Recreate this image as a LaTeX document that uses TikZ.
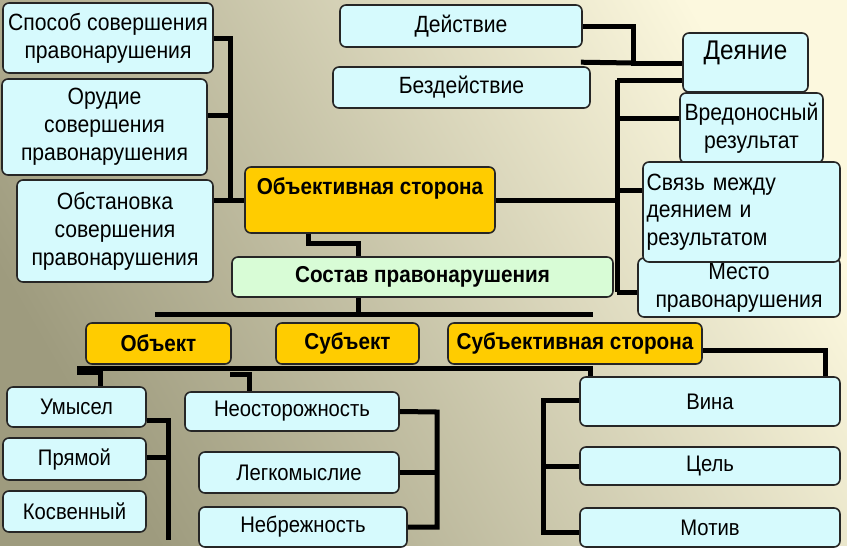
\documentclass[tikz,border=0pt]{standalone}
\usepackage{fontspec}
\setmainfont{Liberation Sans}[FakeStretch=0.9]
\definecolor{bgl}{RGB}{252,248,222}
\definecolor{bgd}{RGB}{158,155,126}
\definecolor{cyanbox}{RGB}{214,250,253}
\definecolor{ylw}{RGB}{255,204,0}
\definecolor{grn}{RGB}{216,252,214}
\newcommand\fsz[2]{\fontsize{#1}{#2}\selectfont}
\newcommand\mybox[6]{\node[#1, minimum width=#4, minimum height=#5] (#2) at (#3) {#6};}
\begin{document}
\begin{tikzpicture}[x=1pt,y=-1pt,
 base/.style={draw=black!85, line width=1.6pt, rounded corners=6pt, inner sep=0pt, align=center},
 cbox/.style={base, fill=cyanbox, font={\fsz{23.5}{28}}},
 cboxs/.style={base, fill=cyanbox, font={\fsz{22.5}{28}}},
 ybox/.style={base, fill=ylw, font={\fsz{23}{28}\bfseries}},
 gbox/.style={base, fill=grn, font={\fsz{23}{28}\bfseries}},
 lbl/.style={inner sep=0pt, align=center},
 conn/.style={line width=5pt, black},
]
\useasboundingbox (0,0) rectangle (847,550);
\fill[white] (0,0) rectangle (847,550);
\shade[top color=bgl, bottom color=bgd, shading angle=-60] (0,0) rectangle (847,545);

% ---------- left group
\mybox{cbox}{sposob}{108,38}{210}{70}{Способ совершения\\правонарушения}
\mybox{cbox}{orudie}{104.5,127}{205}{96}{Орудие\\совершения\\правонарушения}
\mybox{cbox}{obstan}{115,231}{196}{102}{Обстановка\\совершения\\правонарушения}

% ---------- central
\mybox{ybox}{objs}{370,200}{250}{66}{}
\node[lbl, font={\fsz{23}{28}\bfseries}] (objsT) at (370,188) {Объективная сторона};
\mybox{gbox}{sostav}{422.5,277}{381}{40}{Состав правонарушения}

% ---------- top right
\mybox{cbox}{deistvie}{461,26}{242}{42}{Действие}
\mybox{cbox}{bezd}{461.5,87.5}{257}{41}{Бездействие}
\mybox{cbox}{deyanie}{745.5,62.5}{125}{59}{}
\node[lbl, font={\fsz{27}{30}}] (deyanieT) at (745.5,53) {Деяние};
\mybox{cbox}{vred}{751.5,128}{143}{70}{Вредоносный\\результат}
\mybox{cbox}{mesto}{739,287.5}{202}{59}{Место\\правонарушения}
\node[base, fill=cyanbox, font={\fsz{23.5}{27.5}}, minimum width=197, minimum height=100,
      text width=190, align=left] (svyaz) at (741.5,212) {Связь между\\деянием и\\результатом};

% ---------- yellow row
\mybox{ybox}{obekt}{158.5,343.5}{145}{41}{Объект}
\mybox{ybox}{subekt}{347.5,343.5}{143}{41}{Субъект}
\mybox{ybox}{subside}{575,343.5}{254}{41}{Субъективная сторона}

% ---------- bottom
\mybox{cboxs}{umysel}{76.5,407}{139}{40}{Умысел}
\mybox{cboxs}{pryamoy}{74.5,459}{143}{42}{Прямой}
\mybox{cboxs}{kosv}{74.5,511.5}{143}{41}{Косвенный}
\mybox{cboxs}{neost}{292,411.5}{214}{39}{Неосторожность}
\mybox{cboxs}{legk}{299,472.5}{200}{41}{Легкомыслие}
\mybox{cboxs}{nebr}{303,527}{208}{40}{Небрежность}
\mybox{cboxs}{vina}{710,401.5}{260}{49}{Вина}
\mybox{cboxs}{cel}{710,466}{260}{38}{Цель}
\mybox{cboxs}{motiv}{710,527.5}{260}{39}{Мотив}

% ---------- connectors: left group
\coordinate (L1) at (230,38);
\coordinate (L2) at (230,200);
\coordinate (L3) at (230,115);
\draw[conn] (sposob.east) -- (L1) -- (L2) -- (objs.west);
\draw[conn] (obstan.east |- L2) -- (L2);
\draw[conn] (orudie.east |- L3) -- (L3);

% ---------- connectors: right group
\coordinate (R0) at (617,200);
\coordinate (R1) at (617,80);
\coordinate (R2) at (617,118);
\coordinate (R3) at (617,190);
\coordinate (R4) at (617,292);
\draw[conn] (objs.east) -- (R0);
\draw[conn] (R1) -- (R4);
\draw[conn] (R1) -- (deyanie.west |- R1);
\draw[conn] (R2) -- (vred.west |- R2);
\draw[conn] (R3) -- (svyaz.west |- R3);
\draw[conn] (R4) -- (mesto.west |- R4);

% Действие / Бездействие -> Деяние
\coordinate (D1) at (633,26);
\coordinate (D2) at (633,63);
\draw[conn] (deistvie.east) -- (D1) -- (D2) -- (deyanie.west |- D2);
\draw[conn] ([xshift=-10pt,yshift=4pt]bezd.north east) -- (D2);

% Объективная -> Состав
\coordinate (C1) at (308,243);
\coordinate (C2) at (358,243);
\coordinate (C3) at (358,314);
\draw[conn] (objs.south -| C1) -- (C1) -- (C2) -- (sostav.north -| C2);
\draw[conn] (sostav.south -| C3) -- (C3);
\coordinate (M1) at (155,314);
\coordinate (M2) at (593,314);
\draw[conn] (M1) -- (M2);

% under yellow row
\coordinate (U1) at (77,368);
\coordinate (U2) at (590,368);
\coordinate (U3) at (100,368);
\coordinate (U4) at (77,372);
\coordinate (U5) at (100,372);
\draw[conn] (U1) -- (U2) -- (vina.north -| U2);
\draw[conn] (U4) -- (U5);
\draw[conn] (U3) -- (umysel.north -| U3);
\coordinate (N1) at (230,374);
\coordinate (N2) at (249,374);
\draw[conn] (N1) -- (N2) -- (neost.north -| N2);

% Субъективная -> Вина
\coordinate (S1) at (825,350);
\draw[conn] (subside.east |- S1) -- (S1) -- (vina.north -| S1);

% Умысел group
\coordinate (A1) at (168,420);
\coordinate (A2) at (168,540);
\coordinate (A3) at (168,457);
\draw[conn] (umysel.east |- A1) -- (A1) -- (A2);
\draw[conn] (pryamoy.east |- A3) -- (A3);

% Неосторожность group
\coordinate (B1) at (437,412);
\coordinate (B2) at (437,527);
\draw[conn] (neost.east) -- (B1) -- (B2) -- (nebr.east);
\draw[conn] (legk.east) -- (legk.east -| B1);

% Вина group
\coordinate (V1) at (543,400);
\coordinate (V2) at (543,532);
\draw[conn] (vina.west |- V1) -- (V1) -- (V2) -- (motiv.west |- V2);
\draw[conn] (cel.west) -- (cel.west -| V1);
\end{tikzpicture}
\end{document}
